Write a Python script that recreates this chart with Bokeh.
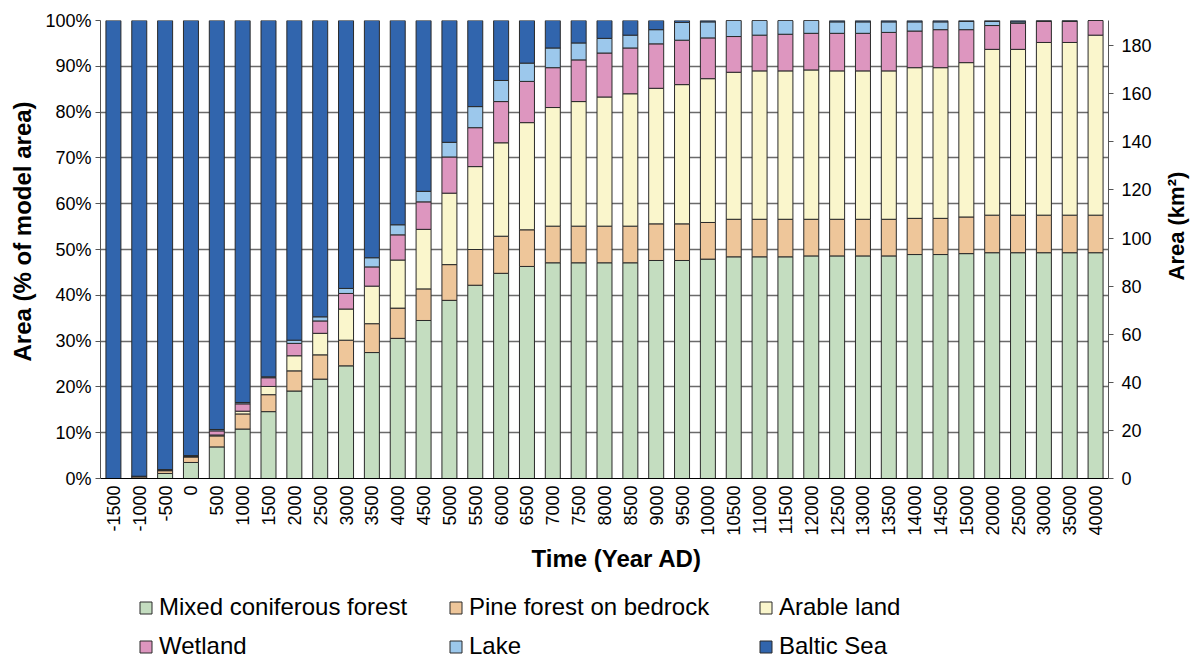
import math
from bokeh.plotting import figure
from bokeh.layouts import column, row
from bokeh.models import (Range1d, FactorRange, LinearAxis, SingleIntervalTicker,
                          CustomJSTickFormatter, Legend, LegendItem, Title)
from bokeh.embed import file_html
from bokeh.resources import INLINE

# Time steps (year AD)
years = ["-1500", "-1000", "-500", "0", "500", "1000", "1500", "2000", "2500", "3000",
         "3500", "4000", "4500", "5000", "5500", "6000", "6500", "7000", "7500", "8000",
         "8500", "9000", "9500", "10000", "10500", "11000", "11500", "12000", "12500",
         "13000", "13500", "14000", "14500", "15000", "20000", "25000", "30000", "35000",
         "40000"]

# Share of model area (%) per land class
mixed_forest = [0.0, 0.1, 1.1, 3.5, 6.9, 10.8, 14.6, 19.1, 21.7, 24.6,
                27.5, 30.6, 34.5, 38.9, 42.2, 44.8, 46.3, 47.1, 47.1, 47.1,
                47.1, 47.6, 47.6, 47.9, 48.4, 48.4, 48.4, 48.6, 48.6,
                48.6, 48.6, 48.9, 48.9, 49.1, 49.3, 49.3, 49.3, 49.3, 49.3]
pine_forest = [0.0, 0.3, 0.6, 1.2, 2.4, 3.3, 3.7, 4.4, 5.3, 5.6,
               6.3, 6.6, 6.9, 7.8, 7.8, 8.1, 8.0, 8.0, 8.0, 8.0,
               8.0, 8.0, 8.0, 8.0, 8.2, 8.2, 8.2, 8.0, 8.0,
               8.0, 8.0, 7.9, 7.9, 8.0, 8.2, 8.2, 8.2, 8.2, 8.2]
arable_land = [0.0, 0.05, 0.1, 0.1, 0.2, 0.6, 1.8, 3.3, 4.7, 6.8,
               8.2, 10.5, 13.0, 15.6, 18.1, 20.4, 23.4, 25.9, 27.2, 28.2,
               28.9, 29.6, 30.4, 31.4, 32.1, 32.4, 32.4, 32.6, 32.4,
               32.4, 32.4, 32.9, 32.9, 33.7, 36.2, 36.2, 37.7, 37.7, 39.3]
wetland = [0.0, 0.05, 0.1, 0.1, 0.9, 1.6, 1.9, 2.7, 2.7, 3.4,
           4.2, 5.5, 6.0, 7.9, 8.5, 9.0, 9.0, 8.7, 9.1, 9.6,
           10.0, 9.7, 9.7, 8.9, 7.8, 7.8, 8.0, 8.0, 8.2,
           8.2, 8.4, 8.0, 8.3, 7.2, 5.2, 5.7, 4.6, 4.6, 3.2]
lake = [0.0, 0.0, 0.05, 0.1, 0.3, 0.3, 0.2, 0.7, 0.9, 1.1,
        2.0, 2.2, 2.3, 3.2, 4.6, 4.6, 4.0, 4.3, 3.7, 3.2,
        2.8, 3.1, 3.9, 3.5, 3.5, 3.2, 3.0, 2.8, 2.5,
        2.5, 2.3, 2.0, 1.7, 1.8, 0.9, 0.3, 0.1, 0.1, 0.0]
baltic_sea = [100.0, 99.5, 98.05, 95.0, 89.3, 83.4, 77.8, 69.8, 64.7, 58.5,
              51.8, 44.6, 37.3, 26.6, 18.8, 13.1, 9.3, 6.0, 4.9, 3.9,
              3.2, 2.0, 0.4, 0.3, 0.0, 0.0, 0.0, 0.0, 0.3,
              0.3, 0.3, 0.3, 0.3, 0.2, 0.2, 0.3, 0.1, 0.1, 0.0]

# Total model area in km² (100 %)
total_area_km2 = 190.5

classes = ["mixed", "pine", "arable", "wetland", "lake", "sea"]
labels = ["Mixed coniferous forest", "Pine forest on bedrock", "Arable land",
          "Wetland", "Lake", "Baltic Sea"]
colors = ["#C4DDC0", "#EEC69A", "#FAF6CC", "#DD96BF", "#9CC8EC", "#3165AD"]

source = dict(years=years, mixed=mixed_forest, pine=pine_forest, arable=arable_land,
              wetland=wetland, lake=lake, sea=baltic_sea)

FONT = "Liberation Sans"
EDGE = "#2a2a2a"
BAR_WIDTH = 0.58


def blank(fig):
    fig.xgrid.grid_line_color = None
    fig.ygrid.grid_line_color = None
    return fig


# ---- main chart -------------------------------------------------------------
p = figure(width=1160, height=578, x_range=FactorRange(*years),
           y_range=Range1d(0, 100), output_backend="svg", toolbar_location=None,
           min_border_left=100, min_border_right=52, min_border_top=20,
           min_border_bottom=100, background_fill_color="white",
           border_fill_color="white", outline_line_color=None)

p.vbar_stack(classes, x="years", width=BAR_WIDTH, source=source, color=colors,
             line_color=EDGE, line_width=1)

# Left axis: percent of model area
ticker = SingleIntervalTicker(interval=10, num_minor_ticks=0)
yax = p.yaxis[0]
yax.ticker = ticker
yax.formatter = CustomJSTickFormatter(code="return tick.toFixed(0) + '%';")
yax.axis_line_color = "#555555"
yax.major_tick_line_color = "#555555"
yax.major_tick_out = 5
yax.major_tick_in = 0
yax.minor_tick_line_color = None
yax.major_label_standoff = 4

p.ygrid.ticker = ticker
p.ygrid.grid_line_color = "#6a6a6a"
p.ygrid.grid_line_width = 1.6
p.xgrid.grid_line_color = None

# Right axis: km²
p.extra_y_ranges = {"km": Range1d(0, total_area_km2)}
rax = LinearAxis(y_range_name="km", ticker=SingleIntervalTicker(interval=20, num_minor_ticks=0))
rax.axis_line_color = "#555555"
rax.major_tick_line_color = "#555555"
rax.major_tick_out = 5
rax.major_tick_in = 0
rax.minor_tick_line_color = None
rax.major_label_standoff = 8
p.add_layout(rax, "right")

# Bottom axis
xax = p.xaxis[0]
xax.axis_line_color = "black"
xax.major_tick_line_color = None
xax.major_tick_out = 0
xax.major_label_orientation = math.pi / 2
xax.major_label_standoff = 7

for ax in (yax, rax, xax):
    ax.major_label_text_font = FONT
    ax.major_label_text_font_size = "18px"
    ax.major_label_text_color = "black"

# Axis titles
title_style = dict(text_font=FONT, text_font_style="bold", text_color="black",
                   align="left", vertical_align="middle")
p.add_layout(Title(text="Area (% of model area)", offset=117, standoff=11,
                   text_font_size="24px", **title_style), "left")
p.add_layout(Title(text="Time (Year AD)", offset=431, standoff=10,
                   text_font_size="24px", **title_style), "below")

# ---- title strip for the km² axis ---------------------------------------------
rt = blank(figure(width=42, height=578, output_backend="svg", toolbar_location=None,
                  x_axis_location=None, y_axis_location=None,
                  min_border_left=0, min_border_right=0, min_border_top=20,
                  min_border_bottom=100, background_fill_color="white",
                  border_fill_color="white", outline_line_color=None))
rt.add_layout(Title(text="Area (km²)", offset=198, standoff=5,
                    text_font_size="22px", **title_style), "left")

# ---- legend strip under the chart ---------------------------------------------
lg = blank(figure(width=1160, height=80, x_range=FactorRange(*years),
                  y_range=Range1d(0, 100), output_backend="svg", toolbar_location=None,
                  x_axis_location=None, y_axis_location=None, min_border=0,
                  background_fill_color="white", border_fill_color="white",
                  outline_line_color=None))
keys = lg.vbar_stack(classes, x="years", width=BAR_WIDTH, source=source, color=colors,
                     line_color=EDGE, line_width=1, visible=False)

leg = Legend(items=[LegendItem(label=lab, renderers=[r]) for lab, r in zip(labels, keys)],
             location=(38, -2), orientation="horizontal", nrows=2)
leg.border_line_color = None
leg.background_fill_alpha = 0
leg.inactive_fill_alpha = 0
leg.padding = 0
leg.margin = 0
leg.spacing = 11
leg.glyph_width = 15
leg.glyph_height = 15
leg.label_standoff = 6
leg.label_width = 278
leg.label_height = 27
leg.label_text_font = FONT
leg.label_text_font_size = "24px"
leg.label_text_color = "black"
lg.add_layout(leg, "center")

layout = row(column(p, lg, spacing=0), rt, spacing=0)
open("out.html", "w").write(file_html(layout, INLINE))
